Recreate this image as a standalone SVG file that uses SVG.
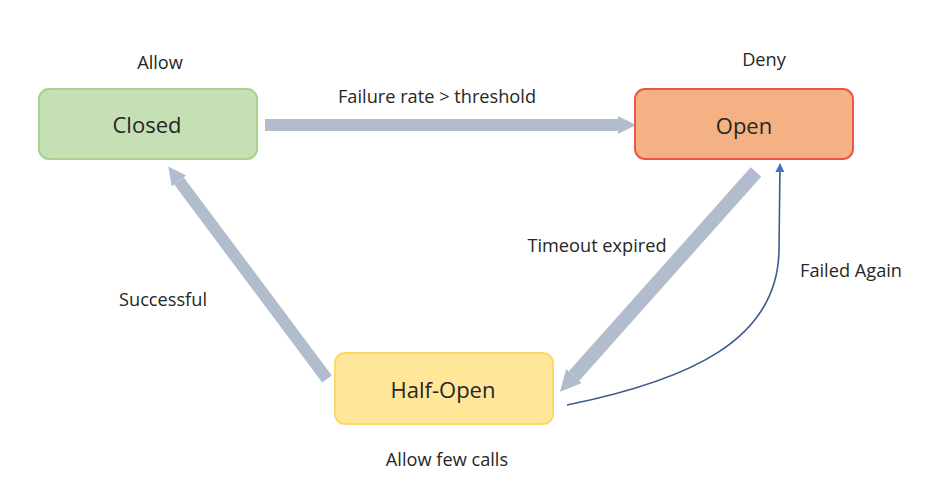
<svg xmlns="http://www.w3.org/2000/svg" width="936" height="501" viewBox="0 0 936 501">
<style>
.lbl{font-family:"Open Sans","Liberation Sans",Arial,sans-serif;font-size:18.2px;fill:#262626;text-anchor:middle}
.title{font-family:"Open Sans","Liberation Sans",Arial,sans-serif;font-size:22px;fill:#262626;text-anchor:middle}
.thick{stroke:#b1bccd;fill:none}
</style>
<defs>
<marker id="ah" viewBox="0 0 10 10" refX="0" refY="5" markerWidth="1.5" markerHeight="1.9" markerUnits="strokeWidth" orient="auto">
<path d="M0,0 L10,5 L0,10 z" fill="#b1bccd"/>
</marker>
<marker id="bh" viewBox="0 0 10 10" refX="9" refY="5" markerWidth="9" markerHeight="9" markerUnits="userSpaceOnUse" orient="auto">
<path d="M0,0 L10,5 L0,10 z" fill="#4472c4"/>
</marker>
</defs>
<rect width="936" height="501" fill="#ffffff"/>
<g id="connectors">
<line class="thick" stroke-width="12" x1="265" y1="125" x2="618" y2="125" marker-end="url(#ah)"/>
<line class="thick" stroke-width="14" x1="756" y1="172" x2="574" y2="376" marker-end="url(#ah)"/>
<line class="thick" stroke-width="12" x1="327" y1="379" x2="179" y2="181" marker-end="url(#ah)"/>
<path d="M567,405 C690,380 778,340 779,250 L780,164" fill="none" stroke="#3d5a8c" stroke-width="1.6" marker-end="url(#bh)"/>
<text class="lbl" x="437" y="103">Failure rate &gt; threshold</text>
<text class="lbl" x="597" y="252">Timeout expired</text>
<text class="lbl" x="851" y="277">Failed Again</text>
<text class="lbl" x="163" y="306">Successful</text>
</g>
<g id="closed">
<rect x="39" y="89" width="218" height="70" rx="10" fill="#c5e0b4" stroke="#a9d18e" stroke-width="2"/>
<text class="title" x="147" y="133">Closed</text>
<text class="lbl" x="160" y="69">Allow</text>
</g>
<g id="open">
<rect x="635" y="89" width="218" height="70" rx="10" fill="#f4b183" stroke="#e8574a" stroke-width="2"/>
<text class="title" x="744" y="134">Open</text>
<text class="lbl" x="764" y="66">Deny</text>
</g>
<g id="half-open">
<rect x="335" y="353" width="218" height="71" rx="10" fill="#ffe699" stroke="#ffd966" stroke-width="2"/>
<text class="title" x="443" y="398">Half-Open</text>
<text class="lbl" x="447" y="466">Allow few calls</text>
</g>
</svg>
